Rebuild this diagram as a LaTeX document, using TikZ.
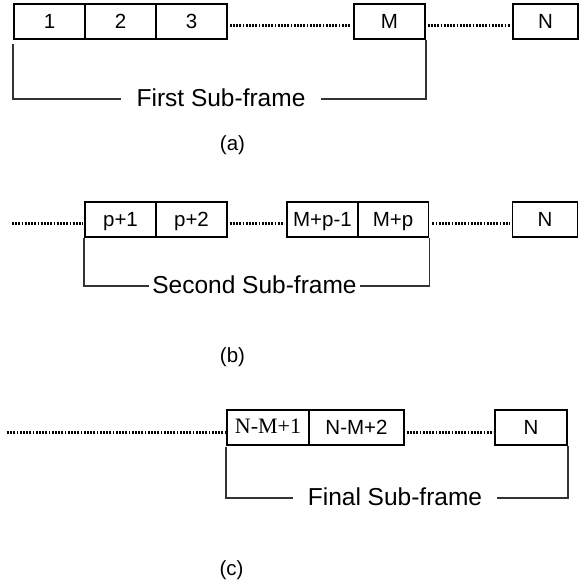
\documentclass[tikz,border=0pt]{standalone}
\usepackage{fontspec}
\setmainfont{Liberation Sans}
\newfontfamily\seriffont{Liberation Serif}
\begin{document}
\begin{tikzpicture}[x=1pt,y=-1pt,
  slot/.style={draw=black,line width=1.6pt,minimum height=35pt,inner sep=0pt,
    font=\fontsize{20.5}{21}\selectfont,text height=13pt,text depth=0pt},
  dotline/.style={line width=3pt,dash pattern=on 1.8pt off 1.4pt,color=black},
  brace/.style={line width=1.6pt,color=black!80},
  sublabel/.style={font=\fontsize{24.5}{26}\selectfont,text height=14pt,text depth=0pt,inner ysep=0pt},
  caption/.style={font=\fontsize{20.5}{22}\selectfont}]
\useasboundingbox (0,0) rectangle (580,587);

% ---- (a) first sub-frame ----
\node[slot,minimum width=71pt] (a1) at (49.5,21.5) {1};
\node[slot,minimum width=71pt] (a2) at (120.5,21.5) {2};
\node[slot,minimum width=71pt] (a3) at (191.5,21.5) {3};
\node[slot,minimum width=71pt] (aM) at (389.5,21.5) {M};
\node[slot,minimum width=65pt] (aN) at (545.5,21.5) {N};
\draw[dotline] ([yshift=-3.5pt,xshift=2pt]a3.east) -- ([yshift=-3.5pt,xshift=-2pt]aM.west);
\draw[dotline] ([yshift=-3.5pt,xshift=2pt]aM.east) -- ([yshift=-3.5pt,xshift=-2pt]aN.west);
\node[sublabel,inner xsep=15pt] (fa) at (221,99) {First Sub-frame};
\draw[brace] ([yshift=-4pt]a1.south west) |- (fa.west);
\draw[brace] (fa.east) -| (aM.south east);
\node[caption] (ca) at (232.5,145) {(a)};

% ---- (b) second sub-frame ----
\coordinate (bs) at (12,223);
\node[slot,minimum width=71pt] (b1) at (120.5,219.5) {p+1};
\node[slot,minimum width=71pt] (b2) at (191.5,219.5) {p+2};
\node[slot,minimum width=71pt] (b3) at (322.5,219.5) {M+p-1};
\node[slot,minimum width=71pt] (b4) at (393,219.5) {M+p};
\node[slot,minimum width=65pt] (bN) at (545,219.5) {N};
\draw[dotline] (bs) -- ([yshift=-3.5pt,xshift=-1pt]b1.west);
\draw[dotline] ([yshift=-3.5pt,xshift=2pt]b2.east) -- ([yshift=-3.5pt,xshift=-2pt]b3.west);
\draw[dotline] ([yshift=-3.5pt,xshift=3pt]b4.east) -- ([yshift=-3.5pt,xshift=-2pt]bN.west);
\node[sublabel,inner xsep=3pt] (fb) at (254.5,286) {Second Sub-frame};
\draw[brace] (b1.south west) |- (fb.west);
\draw[brace] (fb.east) -| (b4.south east);
\node[caption] (cb) at (232.5,357) {(b)};

% ---- (c) final sub-frame ----
\coordinate (cs) at (7,432);
\node[slot,minimum width=82pt,font=\seriffont\fontsize{22}{23}\selectfont,text height=11pt] (c1) at (268,427.5) {N-M+1};
\node[slot,minimum width=95pt] (c2) at (356.5,427.5) {N-M+2};
\node[slot,minimum width=72pt] (cN) at (531,427.5) {N};
\draw[dotline] (cs) -- ([yshift=-4.5pt,xshift=-1pt]c1.west);
\draw[dotline] ([yshift=-4.5pt,xshift=2pt]c2.east) -- ([yshift=-4.5pt,xshift=-1pt]cN.west);
\node[sublabel,inner xsep=15pt] (fc) at (395,498) {Final Sub-frame};
\draw[brace] ([yshift=-1pt]c1.south west) |- (fc.west);
\draw[brace] (fc.east) -| (cN.south east);
\node[caption] (cc) at (231.5,570) {(c)};
\end{tikzpicture}
\end{document}
